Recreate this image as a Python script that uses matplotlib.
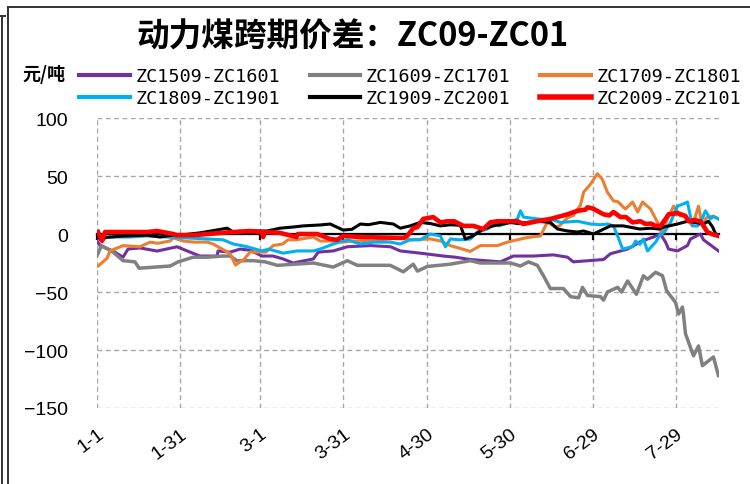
import matplotlib
matplotlib.use("Agg")
import matplotlib.pyplot as plt
from matplotlib.lines import Line2D

# ---------------- data (day offset from 1-1, value in 元/吨) ----------------
tick_days = [0, 30, 59, 89, 119, 149, 179, 209]
tick_labels = ["1-1", "1-31", "3-1", "3-31", "4-30", "5-30", "6-29", "7-29"]
y_ticks = [100, 50, 0, -50, -100, -150]

purple_day = [0, 1.1, 5.8, 9.4, 11.2, 15.5, 21.7, 28.9, 33.6, 37.2, 43.4, 43.7, 48.1, 51.7, 55.3,
              59.6, 63.6, 67.2, 70.8, 78.1, 79.9, 85.3, 90.4, 98.7, 106, 109.5, 116.7, 125.1, 129.4,
              134.8, 145.7, 150.4, 157.6, 164.8, 169.9, 172, 182.9, 185.4, 191.6, 196.2, 200.9,
              203.5, 205.3, 206.4, 209.6, 213.2, 214.3, 217.9, 219, 225]
purple_val = [-6, -10, -14.7, -20, -13, -12, -14.7, -11, -15.6, -19, -19, -14.6, -15.6, -13, -14,
              -19, -19, -21.5, -25, -21.5, -15.6, -14.6, -11, -10, -11, -14.6, -16.5, -19, -20,
              -22, -24, -19, -19, -18, -20, -24, -22, -17, -13, -6.6, -2.6,
              0, -7, -13, -14.6, -10, -4.3, 0, -5, -15.6]

gray_day = [0, 1.6, 5.8, 9.4, 13.7, 15.2, 26.4, 29.3, 34.7, 39.8, 45.5, 48, 50.6, 56.4, 60.7, 65.1,
            78.1, 85.3, 90.4, 94, 105.9, 110.6, 113.1, 114.2, 115.7, 119.3, 127.6, 134.8, 138.4,
            149.3, 152.9, 155.8, 159, 161.2, 163.7, 168.4, 171, 173.9, 175.3, 177.1, 181.8, 182.9,
            184.3, 188, 189.4, 191.6, 194.8, 197.3, 198.8, 201.7, 204.2, 205.7, 208.9, 210, 211.4,
            211.8, 212.5, 215.4, 217.2, 218.6, 222.6, 224.4]
gray_val = [-18.7, -10, -15.6, -23, -24, -29.5, -27.6, -24, -20, -20, -19, -19, -23, -23, -24, -27,
            -25, -28.5, -23, -27, -27, -32.6, -28, -26, -32, -28, -26, -23, -25,
            -25, -27.6, -24, -27, -36, -47, -47, -54, -55, -46, -53, -54, -57,
            -50, -46, -50, -40.5, -52, -36, -39, -33, -36, -49, -59, -69, -63,
            -70, -86, -105, -96.5, -113.5, -106, -122]

orange_day = [0.4, 3.6, 4.7, 9.4, 15.5, 19.2, 22, 26.4, 27.5, 31.1, 35, 39.8, 41.9, 45.2, 48.1, 50,
              53, 55.3, 61, 63.6, 67, 69, 72, 78.1, 80.6, 85, 88.9, 92, 100, 109.5, 113, 120.4, 124,
              127.6, 134.8, 138.4, 144.6, 148.2, 155.4, 160.1, 162.6, 165.5, 167, 169.9, 172,
              174.6, 175.7, 178.2, 180.7, 182.5, 184.3, 186.5, 188, 190.8, 193.4, 195.2, 197,
              199.9, 202.4, 204, 206, 208.2, 210.7, 211.8, 215, 217.2, 218.6, 220, 222.6, 224.4]
orange_val = [-27.6, -21, -14.6, -10, -11, -7, -8, -6, -3.4, -6, -7, -7, -8.6, -13, -17, -26.7,
              -22, -15.6, -15.6, -10, -8.6, -5, -5, -2.6, -6, -6, -7, -6, -6, -3, -5, -4.3, -6,
              -10, -15, -10, -10, -7, -3, -1.7, 10, 6, 7, 14, 16,
              25, 36, 43, 52, 47, 36, 28.5, 28, 21.5, 27.6, 19, 27.6,
              21.5, 10, 0, 13, 24, 15.5, 17, 7, 24, 7, 14, 15.5, 13]

cyan_day = [0, 11.9, 18.1, 25.3, 32.5, 39.8, 45.5, 49.2, 54.2, 59.6, 62, 67.2, 72.3, 78.1, 80.6,
            85.3, 90.4, 95.1, 100, 105.9, 109.5, 113, 116.7, 120.4, 124, 125.8, 127.6, 131, 134.8,
            137.3, 141, 143.9, 145, 149.3, 151.8, 152.9, 154, 159, 165, 167.3, 173.5, 178.2,
            181.8, 184.3, 186.5, 188, 189.8, 193.4, 194.5, 196, 197.3, 198.8, 201.7, 203.5, 205,
            207.1, 209.6, 211.8, 213.2, 215, 216.9, 218, 219.7, 221.5, 222.6, 224.4]
cyan_val = [-2.6, -2.6, -1.7, -2.6, -3.4, -4.3, -5, -8.6, -11, -14.6, -13, -16.5, -14.6, -14.6, -13,
            -8.6, -5, -8.6, -7, -7, -8.6, -5, -5, 0, -1.7, -11, -4.3, -5, -4.3,
            1.7, 4.3, 10, 7, 10, 13, 20, 14.6, 13, 12, 10, 11, 8.6,
            8, 8.6, 7, -1.7, -13, -11, -6, -9, -4.3, -14.6, -7, 0, 2,
            10, 24, 26, 27.6, 7, 7, 10, 20, 13, 15, 13]

black_day = [0, 1.8, 3, 9.4, 18.1, 22.8, 27, 30, 37.2, 47, 49, 56.4, 61.4, 66.1, 70.8, 74.5, 80.6,
             84.2, 88.9, 92, 95.1, 98, 102.3, 107, 109.5, 113.1, 116.7, 120.4, 124, 127.6, 131.2,
             133, 135.5, 139.5, 143.1, 149.3, 152, 159, 163.7, 166.3, 169.9, 173.5, 175.7, 179.3,
             181, 185.4, 190, 196, 200, 203, 204.6, 209.6, 213.2, 216, 219, 220.8, 222.3, 223.4, 225]
black_val = [-1.7, -6, -3, -1.7, -1, -2.6, -1, -1, 1, 5, 2, 2.6, 2.6, 5, 6, 7, 7.8,
             8.6, 3.4, 4, 8.6, 8, 10, 8.6, 5, 7, 10, 9, 7, 8, 7.5,
             -4.3, -2, 4.3, 7, 10, 9, 11, 10, 4.3, 2.6, 1.7, 2.6, 0,
             2, 7, 7, 4.3, 5, 4.3, 6, 8.6, 11, 10, 8.6, 11, 6, 0, -1]

red_day = [0.4, 1.8, 2.9, 11.9, 18.1, 21.7, 27.5, 28.9, 35, 40, 45, 49.2, 55.3, 59.6, 60, 60.5, 66,
           72, 72.5, 79.5, 84.2, 86.7, 88.9, 95.1, 103, 110.6, 112, 114.2, 115.7, 117.8, 121.4,
           124, 126.5, 129, 132.3, 135.9, 139.5, 142, 144.6, 149, 151.8, 154, 159, 163.7, 166.3,
           169.9, 173.5, 176.4, 177.1, 179, 182.9, 185, 186.5, 189, 191, 193.4, 196.2, 198.1,
           200, 201.7, 203.5, 205.3, 206.4, 209.6, 212.5, 213.6, 215.7, 217.9, 219, 220.4, 222,
           224.4]
red_val = [1.7, -6, 1.7, 1.7, 1.7, 2.6, 0, -1, -1, 0, 1, 1.7, 2.6, 1.7, -2.6, 1.7, 1,
           -2.6, 0, 0, -4.3, -5, -1.7, -2.6, -3, -3.4, -1.7, 5, 6, 13, 14.6,
           10, 11, 11, 7, 7, 4.3, 10, 11, 11, 11, 8.6, 11, 13, 14.6,
           17, 20, 21, 23, 22, 17, 16, 19, 14.6, 14.6, 10, 11, 8.6,
           9, 7, 7, 13, 17, 18, 15.5, 11, 12, 11, 7, 1.7, 0,
           -1.7]

series = [
    ("ZC1509-ZC1601", purple_day, purple_val, "#7030A0", 2.2),
    ("ZC1609-ZC1701", gray_day, gray_val, "#808080", 2.5),
    ("ZC1709-ZC1801", orange_day, orange_val, "#ED7D31", 2.2),
    ("ZC1809-ZC1901", cyan_day, cyan_val, "#00B0F0", 2.2),
    ("ZC1909-ZC2001", black_day, black_val, "#000000", 2.2),
    ("ZC2009-ZC2101", red_day, red_val, "#FF0000", 3.3),
]

# ---------------- figure ----------------
W, H = 750, 485
fig = plt.figure(figsize=(W / 100, H / 100), dpi=100)
ax = fig.add_axes([97 / W, 1 - 409 / H, (719 - 97) / W, (409 - 119) / H])

handles = {}
for name, d, v, c, lw in series:
    ax.plot(d, v, color=c, lw=lw, solid_joinstyle="round", zorder=3)
    handles[name] = c

ax.set_xlim(0, 224.6)
ax.set_ylim(-150, 100)
ax.set_yticks(y_ticks)
ax.set_yticklabels([str(t).replace("-", "\u2212") for t in y_ticks],
                   fontsize=14, family="Liberation Sans")
ax.tick_params(axis="y", length=0, pad=21)
ax.set_xticks(tick_days)
ax.grid(True, color="#A6A6A6", lw=1.0, linestyle=(0, (3.5, 2.5)), zorder=0)
for s in ["top", "right", "left"]:
    ax.spines[s].set_visible(False)
ax.spines["bottom"].set_position(("data", 0))
ax.spines["bottom"].set_linewidth(1.6)
ax.spines["bottom"].set_zorder(2)
ax.tick_params(axis="x", direction="out", length=4, width=1.6, labelbottom=False)

sec = ax.secondary_xaxis(0)
sec.set_xticks(tick_days)
sec.set_xticklabels(tick_labels, rotation=37, ha="right", rotation_mode="anchor",
                    fontsize=14, family="Liberation Sans")
sec.tick_params(length=0, pad=12)
sec.spines["bottom"].set_visible(False)

# title and unit
fig.text(352 / W, 1 - 37 / H, "动力煤跨期价差：ZC09-ZC01", ha="center", va="center",
         fontsize=23.5, fontweight="bold", family=["Noto Sans CJK SC", "DejaVu Sans"])
fig.text(22 / W, 1 - 75 / H, "元/吨", ha="left", va="center", fontsize=13,
         fontweight="bold", family=["Noto Sans CJK SC", "DejaVu Sans"])

# legend (column-major order to match reference rows)
order = ["ZC1509-ZC1601", "ZC1809-ZC1901", "ZC1609-ZC1701",
         "ZC1909-ZC2001", "ZC1709-ZC1801", "ZC2009-ZC2101"]
leg_handles = [Line2D([], [], color=handles[n], lw=(4.0 if n == "ZC2009-ZC2101" else 3.0))
               for n in order]
fig.legend(leg_handles, order, loc="upper left", bbox_to_anchor=(79 / W, 1 - 68 / H),
           ncol=3, frameon=False, borderpad=0, borderaxespad=0, handlelength=2.75,
           handletextpad=0.3, columnspacing=1.6, labelspacing=0.22,
           prop={"family": "DejaVu Sans Mono", "size": 13.3})

# outer frame remnants
fig.add_artist(Line2D([7.5 / W, 1], [1 - 7.5 / H, 1 - 7.5 / H], color="#333333", lw=1.4))
fig.add_artist(Line2D([7.5 / W, 7.5 / W], [0, 1 - 7.5 / H], color="#333333", lw=1.4))
fig.add_artist(Line2D([1.5 / W, 1.5 / W], [0, 1 - 17 / H], color="#333333", lw=1.4))
fig.add_artist(Line2D([0, 5 / W], [1 - 17 / H, 1 - 17 / H], color="#333333", lw=1.4))

fig.savefig("out.png", dpi=100)
